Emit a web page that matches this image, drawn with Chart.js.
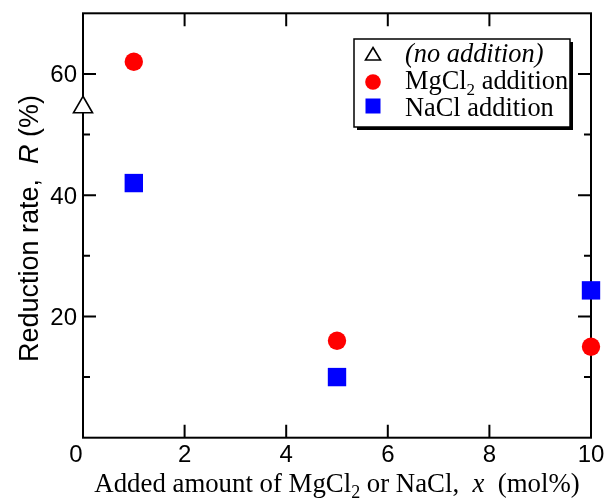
<!DOCTYPE html>
<html>
<head>
<meta charset="utf-8">
<script src="https://cdn.jsdelivr.net/npm/chart.js@4"></script>
<style>
  html, body { margin: 0; padding: 0; background: #fff; }
  #wrap { width: 616px; height: 499px; }
</style>
</head>
<body>
<div id="wrap"><canvas id="c" width="616" height="499"></canvas></div>
<script>
// Axis ticks
const xTicks = [0, 2, 4, 6, 8, 10];
const yTicks = [20, 40, 60];
const yMinorTicks = [10, 30, 50];

// Reduction rate R (%) versus added amount x (mol%)
const noAdditionX = [0];
const noAdditionR = [54.5];
const saltX = [1, 5, 10];
const mgcl2R = [62, 16, 15];
const naclR = [42, 10, 24.3];

const toPoints = (xs, ys) => xs.map((v, i) => ({ x: v, y: ys[i] }));

const SERIF = '"Liberation Serif", "Times New Roman", serif';
const SANS = '"Liberation Sans", Arial, sans-serif';

// Draws a run of text pieces (italic / subscript) from a starting point
function drawRich(ctx, segs, x, y, size, family, align) {
  const parts = segs.map(s => {
    const fs = s.sub ? Math.round(size * 0.66) : size;
    const font = (s.italic ? 'italic ' : '') + fs + 'px ' + family;
    ctx.font = font;
    return { t: s.t, font, w: ctx.measureText(s.t).width, dy: s.sub ? size * 0.24 : 0 };
  });
  const total = parts.reduce((a, p) => a + p.w, 0);
  let cx = align === 'center' ? x - total / 2 : x;
  ctx.textAlign = 'left';
  ctx.textBaseline = 'alphabetic';
  parts.forEach(p => {
    ctx.font = p.font;
    ctx.fillText(p.t, cx, y + p.dy);
    cx += p.w;
  });
}

const framePlugin = {
  id: 'frame',
  beforeDatasetsDraw(chart) {
    const { ctx, chartArea: a, scales: { x, y } } = chart;
    ctx.save();
    ctx.strokeStyle = '#000';
    ctx.lineWidth = 2;
    ctx.strokeRect(a.left, a.top, a.right - a.left, a.bottom - a.top);
    ctx.beginPath();
    xTicks.forEach(v => {
      const px = x.getPixelForValue(v);
      ctx.moveTo(px, a.bottom); ctx.lineTo(px, a.bottom - 13);
      ctx.moveTo(px, a.top); ctx.lineTo(px, a.top + 13);
    });
    yTicks.forEach(v => {
      const py = y.getPixelForValue(v);
      ctx.moveTo(a.left, py); ctx.lineTo(a.left + 13, py);
      ctx.moveTo(a.right, py); ctx.lineTo(a.right - 13, py);
    });
    yMinorTicks.forEach(v => {
      const py = y.getPixelForValue(v);
      ctx.moveTo(a.left, py); ctx.lineTo(a.left + 7, py);
      ctx.moveTo(a.right, py); ctx.lineTo(a.right - 7, py);
    });
    ctx.stroke();

    // tick labels
    ctx.fillStyle = '#000';
    ctx.font = '24px ' + SANS;
    ctx.textBaseline = 'alphabetic';
    ctx.textAlign = 'center';
    xTicks.forEach(v => {
      let px = x.getPixelForValue(v);
      if (v === 0) px -= 7;
      ctx.fillText(String(v), px, a.bottom + 24);
    });
    ctx.textAlign = 'right';
    yTicks.forEach(v => {
      ctx.fillText(String(v), a.left - 6, y.getPixelForValue(v) + 8.5);
    });
    ctx.restore();
  },
  afterDraw(chart) {
    const { ctx, chartArea: a } = chart;
    ctx.save();
    ctx.fillStyle = '#000';

    // x axis title
    drawRich(ctx, [
      { t: 'Added amount of MgCl' }, { t: '2', sub: true },
      { t: ' or NaCl,  ' }, { t: 'x', italic: true }, { t: '  (mol%)' }
    ], (a.left + a.right) / 2, 492, 26.8, SERIF, 'center');

    // y axis title
    ctx.save();
    ctx.translate(37.5, (a.top + a.bottom) / 2 + 3);
    ctx.rotate(-Math.PI / 2);
    drawRich(ctx, [
      { t: 'Reduction rate,  ' }, { t: 'R', italic: true }, { t: ' (%)' }
    ], 0, 0, 27, SANS, 'center');
    ctx.restore();

    // legend box with drop shadow
    const bx = 354, by = 39, bw = 216, bh = 88;
    ctx.fillStyle = '#000';
    ctx.fillRect(bx + 3, by + 3, bw, bh);
    ctx.fillStyle = '#fff';
    ctx.fillRect(bx, by, bw, bh);
    ctx.strokeStyle = '#000';
    ctx.lineWidth = 1.5;
    ctx.strokeRect(bx, by, bw, bh);

    const mx = 373;
    const rows = [
      { draw: () => {
          ctx.beginPath();
          ctx.moveTo(mx, 55 - 7.5); ctx.lineTo(mx + 7.5, 55 + 5); ctx.lineTo(mx - 7.5, 55 + 5);
          ctx.closePath();
          ctx.fillStyle = '#fff'; ctx.fill();
          ctx.strokeStyle = '#000'; ctx.lineWidth = 1.6; ctx.stroke();
        },
        segs: [{ t: '(no addition)', italic: true }], base: 62 },
      { draw: () => {
          ctx.beginPath(); ctx.arc(mx, 82, 7.8, 0, Math.PI * 2);
          ctx.fillStyle = '#ff0000'; ctx.fill();
        },
        segs: [{ t: 'MgCl' }, { t: '2', sub: true }, { t: ' addition' }], base: 89 },
      { draw: () => {
          ctx.fillStyle = '#0000ff'; ctx.fillRect(mx - 7.5, 106 - 7.5, 15, 15);
        },
        segs: [{ t: 'NaCl addition' }], base: 116 }
    ];
    rows.forEach(r => {
      r.draw();
      ctx.fillStyle = '#000';
      drawRich(ctx, r.segs, 405, r.base, 26.4, SERIF, 'left');
    });
    ctx.restore();
  }
};

new Chart(document.getElementById('c'), {
  type: 'scatter',
  data: {
    datasets: [
      {
        label: '(no addition)',
        data: toPoints(noAdditionX, noAdditionR),
        pointStyle: 'triangle',
        pointRadius: 11,
        backgroundColor: '#ffffff',
        borderColor: '#000000',
        borderWidth: 1.6,
        clip: false
      },
      {
        label: 'MgCl2 addition',
        data: toPoints(saltX, mgcl2R),
        pointStyle: 'circle',
        pointRadius: 9.2,
        backgroundColor: '#ff0000',
        borderWidth: 0,
        clip: false
      },
      {
        label: 'NaCl addition',
        data: toPoints(saltX, naclR),
        pointStyle: 'rect',
        pointRadius: 13,
        backgroundColor: '#0000ff',
        borderWidth: 0,
        clip: false
      }
    ]
  },
  options: {
    responsive: false,
    animation: false,
    devicePixelRatio: 1,
    layout: { padding: { left: 83, right: 25, top: 13.3, bottom: 61.3 } },
    plugins: { legend: { display: false }, tooltip: { enabled: false } },
    scales: {
      x: { type: 'linear', min: 0, max: 10, display: false },
      y: { type: 'linear', min: 0, max: 70, display: false }
    }
  },
  plugins: [framePlugin]
});
</script>
</body>
</html>
